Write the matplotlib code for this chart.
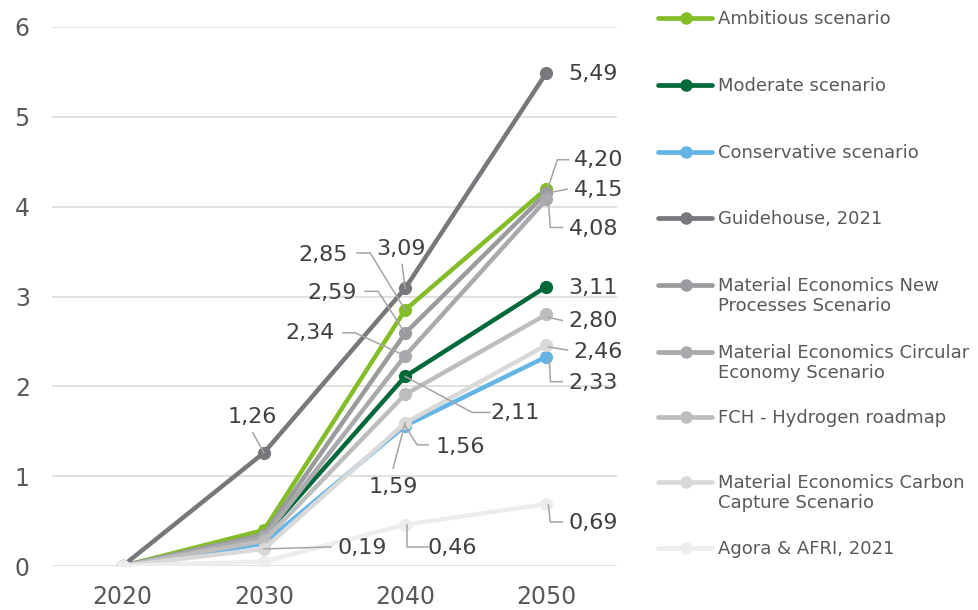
import numpy as np
import matplotlib
matplotlib.use('Agg')
import matplotlib.pyplot as plt
import matplotlib.transforms as mtransforms
from matplotlib.lines import Line2D

years = ['2020', '2030', '2040', '2050']

series_names = [
    'Ambitious scenario',
    'Moderate scenario',
    'Conservative scenario',
    'Guidehouse, 2021',
    'Material Economics New\nProcesses Scenario',
    'Material Economics Circular\nEconomy Scenario',
    'FCH - Hydrogen roadmap',
    'Material Economics Carbon\nCapture Scenario',
    'Agora & AFRI, 2021',
]
ambitious = [0, 0.40, 2.85, 4.20]
moderate = [0, 0.33, 2.11, 3.11]
conservative = [0, 0.25, 1.56, 2.33]
guidehouse = [0, 1.26, 3.09, 5.49]
me_new_processes = [0, 0.35, 2.59, 4.15]
me_circular = [0, 0.32, 2.34, 4.08]
fch = [0, 0.28, 1.91, 2.80]
me_carbon_capture = [0, 0.19, 1.59, 2.46]
agora = [0, 0.05, 0.46, 0.69]
series_values = [ambitious, moderate, conservative, guidehouse, me_new_processes,
                 me_circular, fch, me_carbon_capture, agora]
colors = ['#84bd27', '#00693a', '#64b5e6', '#76787b', '#999b9e',
          '#a8aaad', '#bdbdbd', '#d9d9d9', '#ededed']

# labels: (series index, year index, text offset px (dx, dy up), leader vertices px)
labels = [
    (3, 1, (-12, 36), [(-11, 20), (0, 0)]),
    (7, 1, (98, 1), [(67, 2), (0, 0)]),
    (3, 2, (-4, 39), [(-3, 24), (0, 0)]),
    (0, 2, (-82, 55), [(-48, 57), (-35, 57), (0, 0)]),
    (4, 2, (-73, 40), [(-40, 42), (-27, 42), (0, 0)]),
    (5, 2, (-95, 23), [(-62, 23), (-50, 23), (0, 0)]),
    (1, 2, (110, -37), [(0, 0), (67, -36), (85, -36)]),
    (2, 2, (55, -21), [(23, -19), (12, -19), (0, 0)]),
    (7, 2, (-12, -64), [(-12, -45), (0, 0)]),
    (8, 2, (47, -23), [(23, -22), (2, -22), (2, 0)]),
    (3, 3, (47, -1), None),
    (0, 3, (52, 29), [(22, 29), (11, 29), (2, 2)]),
    (4, 3, (52, 3), [(21, 4), (0, 0)]),
    (5, 3, (47, -30), [(16, -28), (4, -28), (2, -2)]),
    (1, 3, (47, -1), None),
    (6, 3, (47, -7), [(16, -6), (2, -3)]),
    (7, 3, (52, -7), [(21, -5), (2, -2)]),
    (2, 3, (47, -26), [(16, -25), (4, -25), (3, -2)]),
    (8, 3, (47, -19), [(16, -18), (4, -18), (2, -1)]),
]

W, H = 979, 610
fig = plt.figure(figsize=(W / 100, H / 100), dpi=100)
ax = fig.add_axes([52 / W, 1 - 566 / H, (617 - 52) / W, (566 - 27) / H])

x = np.arange(len(years))
for i, (vals, c) in enumerate(zip(series_values, colors)):
    ax.plot(x, vals, color=c, lw=3.2, marker='o', ms=9.5, mew=0,
            solid_capstyle='round', zorder=3 + i)

ax.set_xlim(-0.5, 3.5)
ax.set_ylim(0, 6)
ax.set_xticks(x)
ax.set_xticklabels(years)
ax.set_yticks(range(7))
ax.tick_params(length=0, labelsize=17, labelcolor='#595959')
ax.tick_params(axis='x', pad=14)
ax.tick_params(axis='y', pad=16)
ax.yaxis.grid(True, color='#d9d9d9', lw=1.1)
ax.set_axisbelow(True)
for s in ax.spines.values():
    s.set_visible(False)

for si, yi, (dx, dy), leader in labels:
    v = series_values[si][yi]
    ax.annotate(f'{v:.2f}'.replace('.', ','), xy=(yi, v), xytext=(dx, dy),
                textcoords='offset pixels', ha='center', va='center',
                fontsize=16, color='#404040', zorder=20)
    if leader:
        px, py = ax.transData.transform((yi, v))
        tr = mtransforms.Affine2D().translate(px, py)
        lx = [p[0] for p in leader]
        ly = [p[1] for p in leader]
        ax.add_line(Line2D(lx, ly, color='#a5a5a5', lw=1.1, transform=tr,
                           zorder=15, clip_on=False))

# legend drawn by hand so two-line entries align to first line
legend_y = [18, 85, 152, 218, 285, 352, 417, 482, 548]
for name, c, ly in zip(series_names, colors, legend_y):
    yf = 1 - ly / H
    fig.add_artist(Line2D([658 / W, 712 / W], [yf, yf], color=c, lw=3.4,
                          solid_capstyle='round', transform=fig.transFigure))
    fig.add_artist(Line2D([686 / W], [yf], color=c, marker='o', ms=9, mew=0,
                          transform=fig.transFigure))
    fig.text(718 / W, 1 - (ly - 8) / H, name, fontsize=13, color='#595959',
             ha='left', va='top', linespacing=1.15)

fig.savefig('out.png', dpi=100)
